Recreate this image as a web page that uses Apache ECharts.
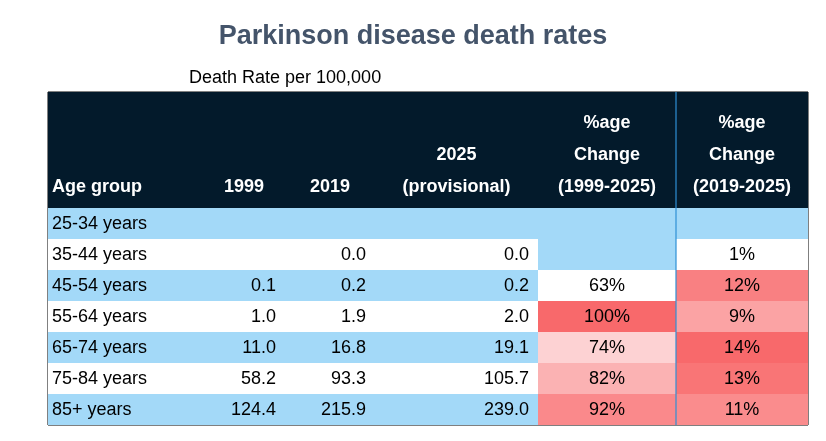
<!DOCTYPE html>
<html><head><meta charset="utf-8">
<script src="https://cdn.jsdelivr.net/npm/echarts@6/dist/echarts.min.js"></script>
<style>body{margin:0}#c{width:826px;height:441px}</style>
</head><body><div id="c"></div>
<script>
// 表格数据
var ages = ['25-34 years','35-44 years','45-54 years','55-64 years','65-74 years','75-84 years','85+ years'];
var r1999 = [null,null,0.1,1.0,11.0,58.2,124.4];
var r2019 = [null,0.0,0.2,1.9,16.8,93.3,215.9];
var r2025 = [null,0.0,0.2,2.0,19.1,105.7,239.0];
var pct1999 = [null,null,63,100,74,82,92];
var pct2019 = [null,1,12,9,14,13,11];
var headers = ['Age group','1999','2019','2025\n(provisional)','%age\nChange\n(1999-2025)','%age\nChange\n(2019-2025)'];

// 列边界（布局）
var edges = [0,155,237,327,490,628,760];
var blue = '#A3D9F8';
var font = 'Liberation Sans';

// Excel 式色阶：白 -> 红
function scale(v, arr){
  var vals = arr.filter(function(x){return x!=null;});
  var mn = Math.min.apply(null,vals), mx = Math.max.apply(null,vals);
  var t = (v-mn)/(mx-mn);
  var r = Math.round(255 + (248-255)*t), g = Math.round(255 + (105-255)*t), b = Math.round(255 + (107-255)*t);
  return 'rgb('+r+','+g+','+b+')';
}

var cells = [];
ages.forEach(function(a,i){
  var rowFill = i%2==0 ? blue : '#fff';
  var cols = [
    [a,'left',rowFill],
    [r1999[i]==null?'':r1999[i].toFixed(1),'right',rowFill],
    [r2019[i]==null?'':r2019[i].toFixed(1),'right',rowFill],
    [r2025[i]==null?'':r2025[i].toFixed(1),'right',rowFill],
    [pct1999[i]==null?'':pct1999[i]+'%','center',pct1999[i]==null?blue:scale(pct1999[i],pct1999)],
    [pct2019[i]==null?'':pct2019[i]+'%','center',pct2019[i]==null?blue:scale(pct2019[i],pct2019)]
  ];
  cols.forEach(function(c,j){ cells.push([j,i,c[0],c[1],c[2]]); });
});
var headCells = headers.map(function(h,j){ return [j,0,h,j==0?'left':'center','#031A2B']; });

function render(isHead){
  return function(params, api){
    var j = api.value(0), row = api.value(1);
    var d = (isHead?headCells:cells)[params.dataIndex];
    var p0 = api.coord([edges[j], row]), p1 = api.coord([edges[j+1], row]);
    var h = api.size([0,1])[1];
    var y0 = p0[1]-h/2;
    var x;
    if(d[3]=='left') x = p0[0]+4; else if(d[3]=='right') x = p1[0]-9; else x = (p0[0]+p1[0])/2;
    var children = [
      {type:'rect', shape:{x:p0[0],y:y0,width:p1[0]-p0[0],height:h}, style:{fill:d[4]}},
      {type:'text', style:{text:d[2], x:x, y:isHead?y0+h-5:y0+h/2+1, align:d[3],
        verticalAlign:isHead?'bottom':'middle', fill:isHead?'#fff':'#000',
        font:(isHead?'bold ':'')+'18px "'+font+'"', lineHeight:isHead?32:20}}
    ];
    if(j==5) children.push({type:'line', shape:{x1:p0[0],y1:y0,x2:p0[0],y2:y0+h}, style:{stroke:'#2E8FD6',lineWidth:1.2}});
    return {type:'group', children:children};
  };
}

var chart = echarts.init(document.getElementById('c'));
chart.setOption({
  animation:false,
  title:[
    {text:'Parkinson disease death rates', left:'center', top:18,
     textStyle:{fontFamily:font, fontSize:27, fontWeight:'bold', color:'#44546A'}},
    {text:'Death Rate per 100,000', left:184, top:64,
     textStyle:{fontFamily:font, fontSize:18, fontWeight:'normal', color:'#000'}}
  ],
  grid:[
    {left:48, right:18, top:92, height:116, show:true, borderColor:'#000', borderWidth:1},
    {left:48, right:18, top:208, bottom:16, show:true, borderColor:'#000', borderWidth:1}
  ],
  xAxis:[
    {gridIndex:0, type:'value', min:0, max:760, show:false},
    {gridIndex:1, type:'value', min:0, max:760, show:false}
  ],
  yAxis:[
    {gridIndex:0, type:'category', data:['h'], show:false},
    {gridIndex:1, type:'category', data:ages, inverse:true, show:false}
  ],
  series:[
    {type:'custom', xAxisIndex:0, yAxisIndex:0, renderItem:render(true),
     data:headCells.map(function(c){return [c[0],c[1]];})},
    {type:'custom', xAxisIndex:1, yAxisIndex:1, renderItem:render(false),
     data:cells.map(function(c){return [c[0],c[1]];})}
  ]
});
</script></body></html>
